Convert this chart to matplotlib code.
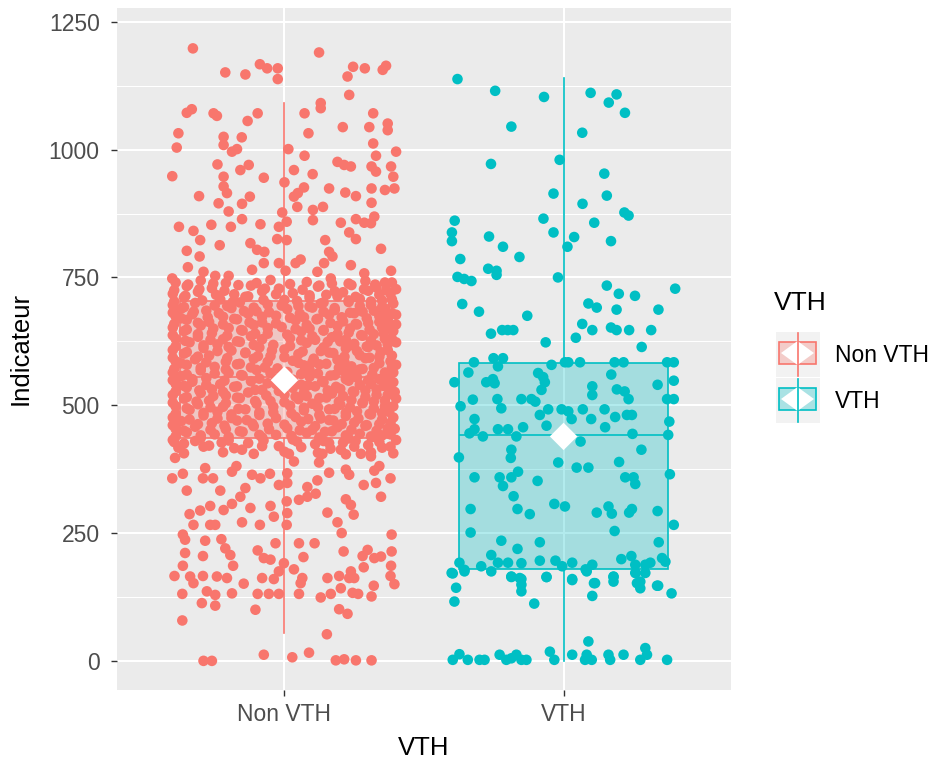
import matplotlib
matplotlib.use("Agg")
import matplotlib.pyplot as plt
from matplotlib.patches import Rectangle, Polygon
from matplotlib.lines import Line2D
from matplotlib.colors import to_rgba

plt.rcParams['font.family'] = ['Liberation Sans', 'DejaVu Sans']

categories = ["Non VTH", "VTH"]
colors = ["#F8766D", "#00BFC4"]

box_q1 = [436, 180]
box_median = [555, 441]
box_q3 = [703, 583]
whisker_low = [55, 0]
whisker_high = [1092, 1140]
group_mean = [549, 439]

y_ticks = [0, 250, 500, 750, 1000, 1250]
y_minor = [125, 375, 625, 875, 1125]

# ---- Non VTH jittered points (offset from category centre, value) ----
nonvth_jitter = [
    -0.328, 0.124, -0.212, -0.14, -0.088, -0.062, -0.024, -0.024, 0.246, 0.288,
    0.226, 0.352, 0.364, 0.232, 0.13, 0.13, -0.35, -0.332, -0.254, -0.242,
    -0.132, -0.096, 0.072, 0.318, 0.37, 0.37, -0.38, -0.218, -0.153, 0.086,
    0.209, 0.304, -0.386, -0.218, -0.188, -0.17, 0.014, 0.318, 0.40, 0.328,
    0.072, -0.24, -0.158, -0.128, -0.402, -0.218, -0.074, 0.034, 0.101, 0.19,
    0.214, 0.238, 0.312, 0.328, 0.382, 0.39, 0.0, -0.218, -0.206, -0.306,
    -0.124, 0.07, 0.048, 0.034, 0.16, 0.218, 0.256, 0.312, 0.36, 0.394,
    -0.236, -0.2, -0.152, 0.046, 0.102, 0.138, 0.312, -0.008, -0.378, -0.326,
    -0.262, -0.192, -0.152, -0.086, -0.02, 0.008, 0.102, 0.202, 0.256, 0.286,
    0.322, 0.31, -0.302, -0.232, -0.026, 0.008, 0.146, 0.232, 0.256, 0.346,
    -0.35, -0.304, -0.122, -0.098, -0.072, 0.058, 0.16, 0.172, -0.346, -0.29,
    -0.248, -0.2, -0.116, -0.074, -0.02, 0.004, 0.04, 0.142, 0.238, 0.286,
    0.382, -0.402, 0.118, 0.166,
    -0.392, -0.402, -0.364, -0.35, -0.284, -0.292, -0.256, -0.188, -0.172, -0.23,
    -0.116, -0.086, -0.052, -0.02, 0.01, 0.016, 0.034, 0.01, -0.152, 0.124,
    0.136, 0.16, 0.118, 0.082, 0.112, 0.202, 0.22, 0.232, 0.274, 0.31,
    0.322, 0.34, 0.38, 0.284, 0.328, 0.346, -0.158, -0.14, -0.122, -0.05,
    -0.038, 0.008, 0.01, 0.052, 0.082, -0.34, -0.326, -0.302, -0.266, -0.266,
    -0.248, -0.218, -0.188, -0.152, -0.088, 0.008, 0.154, 0.19, 0.22, 0.238,
    0.248, 0.205, -0.364, -0.356, -0.284, -0.226, -0.212, -0.194, -0.184, -0.292,
    -0.356, -0.032, 0.052, 0.108, 0.212, 0.384, 0.384, 0.298, 0.28, 0.322,
    0.346, 0.382, 0.284, -0.096, -0.074, -0.05, -0.002, -0.02, 0.034, 0.068,
    0.064, 0.058, -0.364, -0.338, -0.326, -0.292, -0.242, -0.248, -0.206, -0.188,
    -0.278, -0.296, -0.248, -0.394, -0.366, -0.146, -0.08, -0.038, -0.096, -0.056,
    -0.02, 0.052, -0.104, -0.366, 0.154, 0.196, 0.238, 0.232, 0.25, 0.13,
    0.166, 0.202, 0.244, 0.264, 0.312, 0.32, 0.38, 0.394, 0.196, 0.226,
    0.152, -0.074, 0.028, 0.088, -0.29, -0.26, 0.184, 0.214, 0.256, 0.312,
    -0.39, -0.30, -0.21, -0.05, 0.08, 0.17, 0.29, 0.36,
    -0.35, -0.26, -0.12, -0.02, 0.12, 0.24, 0.33, 0.40,
    -0.40, -0.31, -0.18, -0.08, 0.03, 0.15, 0.21, 0.30, 0.38,
    -0.36, -0.23, -0.14, 0.00, 0.09, 0.19, 0.27, 0.35,
    -0.40, -0.32, -0.25, -0.16, -0.06, 0.05, 0.13, 0.23, 0.31, 0.39,
    -0.37, -0.28, -0.19, -0.10, 0.01, 0.10, 0.18, 0.28, 0.36,
    -0.39, -0.33, -0.22, -0.13, -0.03, 0.07, 0.16, 0.25, 0.34, 0.40,
    -0.35, -0.27, -0.17, -0.08, 0.04, 0.12, 0.21, 0.30, 0.37,
    -0.40, -0.30, -0.20, -0.11, -0.01, 0.09, 0.19, 0.26, 0.35,
    -0.36, -0.26, -0.15, -0.06, 0.06, 0.14, 0.23, 0.32, 0.39,
    -0.39, -0.31, -0.22, -0.12, 0.02, 0.11, 0.17, 0.28, 0.36,
    -0.34, -0.24, -0.16, -0.04, 0.08, 0.20, 0.25, 0.33, 0.40,
    -0.40, -0.29, -0.19, -0.09, 0.00, 0.13, 0.22, 0.30, 0.37,
    -0.36, -0.27, -0.14, -0.05, 0.05, 0.16, 0.27, 0.34,
    -0.39, -0.32, -0.21, -0.11, 0.03, 0.10, 0.19, 0.29, 0.38,
    -0.35, -0.25, -0.17, -0.07, 0.07, 0.15, 0.24, 0.32, 0.40,
    -0.40, -0.30, -0.20, -0.10, 0.01, 0.12, 0.21, 0.27, 0.36,
    -0.37, -0.28, -0.15, -0.03, 0.09, 0.18, 0.26, 0.34,
    -0.39, -0.33, -0.23, -0.12, -0.06, 0.06, 0.14, 0.23, 0.31, 0.39,
    -0.35, -0.26, -0.18, -0.08, 0.03, 0.11, 0.20, 0.29, 0.37,
    -0.40, -0.30, -0.21, -0.13, 0.00, 0.08, 0.17, 0.25, 0.33,
    -0.36, -0.27, -0.16, -0.05, 0.05, 0.15, 0.24, 0.32, 0.40,
    -0.39, -0.31, -0.22, -0.10, 0.02, 0.12, 0.20, 0.28, 0.36,
    -0.34, -0.24, -0.14, -0.04, 0.07, 0.18, 0.26, 0.35,
    -0.40, -0.29, -0.19, -0.09, 0.04, 0.13, 0.22, 0.31, 0.39,
    -0.37, -0.26, -0.17, -0.06, 0.06, 0.16, 0.25, 0.34,
    -0.39, -0.32, -0.21, -0.11, 0.01, 0.10, 0.19, 0.29, 0.37,
    -0.35, -0.25, -0.15, -0.03, 0.08, 0.17, 0.27, 0.35,
    -0.40, -0.30, -0.20, -0.08, 0.03, 0.14, 0.23, 0.32, 0.40,
    -0.36, -0.27, -0.13, -0.02, 0.11, 0.21, 0.30, 0.38,
]
nonvth_values = [
    1198, 1190, 1151, 1147, 1167, 1159, 1159, 1138, 1162, 1159,
    1143, 1156, 1164, 1107, 1091, 1081, 1072, 1079, 1071, 1066,
    1056, 1071, 1071, 1071, 1051, 1038, 1032, 1025, 1024, 1032,
    1044, 1044, 1004, 1009, 996, 1001, 1001, 1012, 996, 988,
    988, 971, 960, 970, 948, 947, 945, 960, 952, 976,
    970, 967, 967, 957, 967, 947, 936, 928, 915, 909,
    908, 926, 915, 908, 924, 916, 909, 924, 921, 924,
    895, 879, 894, 888, 882, 888, 896, 877, 849, 841,
    853, 849, 864, 854, 849, 859, 862, 857, 864, 857,
    869, 856, 823, 813, 825, 823, 823, 838, 825, 806,
    802, 791, 817, 804, 800, 785, 800, 791, 770, 761,
    753, 753, 765, 778, 778, 763, 778, 778, 774, 758,
    763, 748, 761, 748,
    397, 357, 366, 333, 377, 357, 357, 370, 381, 333,
    364, 357, 366, 344, 348, 405, 390, 367, 413, 388,
    405, 368, 353, 340, 327, 413, 374, 364, 405, 400,
    372, 381, 357, 344, 348, 321, 321, 338, 299, 303,
    282, 312, 289, 315, 321, 287, 266, 294, 303, 266,
    266, 295, 307, 271, 266, 266, 290, 271, 316, 305,
    286, 250, 247, 237, 235, 238, 220, 207, 186, 205,
    211, 230, 230, 230, 214, 247, 214, 217, 205, 201,
    204, 186, 183, 216, 201, 198, 191, 175, 179, 203,
    162, 152, 186, 165, 152, 166, 165, 129, 162, 132,
    136, 113, 108, 166, 131, 151, 162, 160, 131, 131,
    131, 131, 100, 79, 162, 166, 175, 162, 162, 124,
    131, 142, 133, 131, 126, 147, 166, 150, 101, 92,
    52, 12, 7, 16, 0, 0, 1, 3, 1, 1,
    740, 744, 739, 745, 741, 738, 743, 740,
    733, 729, 734, 728, 732, 735, 730, 727,
    718, 722, 717, 723, 719, 716, 721, 724, 718,
    711, 707, 712, 706, 710, 713, 708, 705,
    696, 700, 695, 701, 697, 694, 699, 702, 696, 699,
    689, 685, 690, 684, 688, 691, 686, 683, 689,
    674, 678, 673, 679, 675, 672, 677, 680, 674, 677,
    667, 663, 668, 662, 666, 669, 664, 661, 667,
    652, 656, 651, 657, 653, 650, 655, 658, 652,
    645, 641, 646, 640, 644, 647, 642, 639, 645,
    630, 634, 629, 635, 631, 628, 633, 636, 630,
    623, 619, 624, 618, 622, 625, 620, 617, 623,
    608, 612, 607, 613, 609, 606, 611, 614, 608,
    601, 597, 602, 596, 600, 603, 598, 595,
    586, 590, 585, 591, 587, 584, 589, 592, 586,
    579, 575, 580, 574, 578, 581, 576, 573, 579,
    564, 568, 563, 569, 565, 562, 567, 570, 564,
    557, 553, 558, 552, 556, 559, 554, 551,
    542, 546, 541, 547, 543, 540, 545, 548, 542, 545,
    535, 531, 536, 530, 534, 537, 532, 529, 535,
    520, 524, 519, 525, 521, 518, 523, 526, 520,
    513, 509, 514, 508, 512, 515, 510, 507, 513,
    498, 502, 497, 503, 499, 496, 501, 504, 498,
    491, 487, 492, 486, 490, 493, 488, 485,
    476, 480, 475, 481, 477, 474, 479, 482, 476,
    469, 465, 470, 464, 468, 471, 466, 463,
    454, 458, 453, 459, 455, 452, 457, 460, 454,
    447, 443, 448, 442, 446, 449, 444, 441,
    432, 436, 431, 437, 433, 430, 435, 438, 432,
    425, 421, 426, 420, 424, 427, 422, 419,
]

# second layer of the dense Non VTH core (between the rows above)
nonvth_core_jitter = [
    -0.345, -0.255, -0.165, -0.10, 0.02, 0.125, 0.23, 0.325, 0.385,
    -0.395, -0.305, -0.215, -0.07, 0.065, 0.18, 0.285, 0.365,
    -0.355, -0.245, -0.13, -0.03, 0.09, 0.255, 0.34,
    -0.395, -0.295, -0.185, -0.075, 0.045, 0.14, 0.23, 0.31, 0.385,
    -0.36, -0.205, -0.11, -0.01, 0.09, 0.18, 0.27, 0.35,
    -0.40, -0.325, -0.235, -0.145, -0.055, 0.055, 0.14, 0.235, 0.32, 0.385,
    -0.37, -0.275, -0.18, -0.08, 0.02, 0.115, 0.205, 0.295, 0.37,
    -0.395, -0.31, -0.22, -0.125, -0.03, 0.08, 0.165, 0.255, 0.34, 0.40,
    -0.35, -0.255, -0.155, -0.06, 0.04, 0.14, 0.235, 0.305, 0.375,
    -0.40, -0.31, -0.205, -0.105, 0.01, 0.10, 0.19, 0.275, 0.355,
    -0.355, -0.265, -0.17, -0.08, 0.06, 0.155, 0.22, 0.31, 0.385,
    -0.39, -0.29, -0.20, -0.11, 0.02, 0.14, 0.235, 0.295, 0.37,
    -0.35, -0.24, -0.14, -0.045, 0.065, 0.175, 0.26, 0.345,
    -0.40, -0.31, -0.205, -0.095, 0.0, 0.105, 0.215, 0.305, 0.385,
    -0.37, -0.28, -0.16, -0.06, 0.05, 0.125, 0.215, 0.34,
    -0.395, -0.30, -0.21, -0.12, -0.025, 0.09, 0.195, 0.28, 0.385,
    -0.35, -0.25, -0.155, -0.05, 0.06, 0.165, 0.24, 0.315, 0.39,
    -0.40, -0.33, -0.215, -0.09, 0.03, 0.135, 0.22, 0.30, 0.37,
    -0.36, -0.28, -0.17, -0.03, 0.085, 0.185, 0.27, 0.355,
    -0.39, -0.305, -0.22, -0.105, -0.02, 0.07, 0.155, 0.245, 0.33, 0.395,
    -0.35, -0.255, -0.17, -0.065, 0.04, 0.125, 0.21, 0.29, 0.37,
    -0.40, -0.315, -0.21, -0.105, 0.0, 0.10, 0.195, 0.28, 0.36,
    -0.35, -0.265, -0.165, -0.04, 0.07, 0.16, 0.235, 0.32, 0.39,
    -0.39, -0.29, -0.19, -0.09, 0.025, 0.125, 0.22, 0.305, 0.375,
    -0.34, -0.24, -0.135, -0.03, 0.085, 0.175, 0.265, 0.35,
    -0.40, -0.31, -0.215, -0.115, 0.0, 0.11, 0.205, 0.295, 0.38,
    -0.36, -0.265, -0.16, -0.055, 0.055, 0.145, 0.24, 0.33, 0.395,
    -0.39, -0.30, -0.20, -0.09, 0.025, 0.125, 0.22, 0.31, 0.38,
    -0.395, -0.32, -0.225, -0.075, 0.045, 0.16, 0.255, 0.34,
    -0.38, -0.29, -0.18, -0.08, 0.06, 0.165, 0.25, 0.35,
    -0.36, -0.22, -0.11, 0.0, 0.12, 0.22, 0.31, 0.39,
]
nonvth_core_values = [
    736, 738, 735, 739, 737, 734, 738, 736, 740,
    725, 727, 724, 728, 726, 723, 727, 725,
    714, 716, 713, 717, 715, 712, 716,
    703, 705, 702, 706, 704, 701, 705, 703, 707,
    692, 694, 691, 695, 693, 690, 694, 692,
    681, 683, 680, 684, 682, 679, 683, 681, 685, 680,
    670, 672, 669, 673, 671, 668, 672, 670, 674,
    659, 661, 658, 662, 660, 657, 661, 659, 663, 658,
    648, 650, 647, 651, 649, 646, 650, 648, 652,
    637, 639, 636, 640, 638, 635, 639, 637, 641,
    626, 628, 625, 629, 627, 624, 628, 626, 630,
    615, 617, 614, 618, 616, 613, 617, 615, 619,
    604, 606, 603, 607, 605, 602, 606, 604,
    593, 595, 592, 596, 594, 591, 595, 593, 597,
    582, 584, 581, 585, 583, 580, 584, 582,
    571, 573, 570, 574, 572, 569, 573, 571, 575,
    560, 562, 559, 563, 561, 558, 562, 560, 564,
    549, 551, 548, 552, 550, 547, 551, 549, 553,
    538, 540, 537, 541, 539, 536, 540, 538,
    527, 529, 526, 530, 528, 525, 529, 527, 531, 526,
    516, 518, 515, 519, 517, 514, 518, 516, 520,
    505, 507, 504, 508, 506, 503, 507, 505, 509,
    494, 496, 493, 497, 495, 492, 496, 494, 498,
    483, 485, 482, 486, 484, 481, 485, 483, 487,
    472, 474, 471, 475, 473, 470, 474, 472,
    461, 463, 460, 464, 462, 459, 463, 461, 465,
    450, 452, 449, 453, 451, 448, 452, 450, 454,
    439, 441, 438, 442, 440, 437, 441, 439, 443,
    428, 430, 427, 431, 429, 426, 430, 428,
    417, 419, 416, 420, 418, 415, 419, 417,
    406, 408, 405, 409, 407, 404, 408, 406,
]

# ---- VTH jittered points ----
vth_jitter = [
    -0.38, -0.245, -0.07, 0.097, 0.19, 0.162, 0.22, -0.187, 0.067, -0.26,
    -0.014, 0.146, -0.036, 0.155, 0.068, 0.218, 0.233, -0.39, -0.072, 0.11,
    -0.40, -0.40, -0.267, -0.036, 0.038, 0.17, 0.014, -0.217, -0.37, -0.158,
    -0.27, -0.24, -0.24, -0.38, -0.356, -0.33, -0.02, 0.155, 0.198, 0.256,
    0.40, -0.363, -0.303, -0.13, 0.089, 0.119, 0.19, 0.34, -0.26, -0.22,
    -0.20, -0.18, 0.067, 0.103, 0.17, 0.19, 0.235, 0.314, -0.064, 0.044, 0.28,
    -0.321, -0.251, -0.217, -0.235, -0.043, 0.005, 0.017, 0.059, 0.183, 0.215,
    0.371, 0.395, -0.341, -0.391, -0.277, -0.253, -0.247, -0.091, -0.073, -0.067,
    -0.079, 0.103, 0.103, 0.171, 0.191, 0.219, 0.233, 0.337, 0.395, -0.325,
    -0.369, -0.237, -0.223, -0.151, -0.115, -0.101, 0.395, 0.371, -0.319, -0.085,
    -0.055, -0.007, 0.017, 0.029, 0.069, 0.099, 0.147, 0.185, 0.227, 0.245,
    0.379, -0.061, -0.337, -0.319, -0.289, -0.235, -0.199, -0.169, -0.145, 0.149,
    0.247, 0.375, 0.061, -0.375, -0.187, -0.189, 0.279, -0.019, 0.047, 0.089,
    0.199, -0.319, -0.229, -0.217, -0.187, -0.163, -0.093, 0.221, 0.251, 0.257,
    0.381, -0.179, -0.333, -0.165, -0.121, -0.033, 0.005, 0.119, 0.161, 0.173,
    0.235, 0.245, 0.337, 0.395, -0.333, 0.183, -0.223, -0.165, -0.085, 0.207,
    0.243, 0.341, -0.373, -0.295, -0.259, -0.235, -0.199, -0.151, -0.085, -0.029,
    -0.005, 0.031, 0.079, 0.103, 0.257, 0.293, 0.311, 0.353, 0.365, -0.401,
    -0.355, -0.187, -0.151, -0.061, 0.031, 0.109, 0.179, 0.259, 0.275, 0.335,
    -0.397, -0.355, -0.259, -0.187, -0.157, -0.151, -0.151, -0.061, 0.031, 0.083,
    0.113, 0.103, 0.179, 0.179, 0.257, 0.263, 0.275, 0.293, 0.339, 0.387,
    -0.385, -0.391, -0.105, -0.397, -0.373, -0.343, -0.301, -0.283, -0.229, -0.205,
    -0.187, -0.169, -0.151, -0.133, -0.049, -0.033, 0.031, 0.089, 0.083, 0.101,
    0.077, 0.161, 0.167, 0.215, 0.275, 0.293, 0.299, 0.371,
]
vth_values = [
    1138, 1115, 1103, 1111, 1108, 1092, 1072, 1045, 1033, 972,
    980, 953, 914, 910, 894, 877, 871, 861, 865, 857,
    838, 821, 830, 838, 829, 821, 810, 810, 786, 790,
    767, 763, 755, 751, 747, 743, 750, 734, 718, 714,
    728, 698, 683, 675, 699, 691, 687, 687, 640, 647,
    647, 647, 659, 647, 652, 647, 647, 647, 623, 632, 614,
    584, 592, 592, 576, 579, 584, 584, 584, 584, 584,
    584, 584, 564, 545, 545, 551, 543, 563, 555, 545,
    530, 537, 520, 560, 531, 527, 512, 540, 548, 511,
    498, 512, 494, 512, 512, 507, 512, 512, 473, 481,
    492, 492, 488, 473, 492, 473, 492, 477, 481, 481,
    468, 460, 445, 453, 439, 453, 453, 439, 457, 457,
    444, 442, 429, 398, 413, 397, 413, 388, 378, 378,
    389, 359, 359, 342, 359, 370, 352, 359, 359, 346,
    365, 322, 297, 297, 287, 307, 302, 290, 302, 288,
    290, 297, 293, 266, 251, 254, 235, 219, 232, 199,
    205, 232, 192, 185, 207, 192, 192, 191, 196, 196,
    185, 192, 179, 188, 188, 188, 192, 201, 194, 172,
    178, 164, 160, 164, 160, 152, 164, 172, 155, 147,
    171, 175, 175, 165, 162, 149, 136, 164, 158, 175,
    152, 127, 165, 155, 172, 152, 142, 172, 147, 132,
    143, 116, 112, 2, 13, 2, 2, 2, 12, 2,
    5, 12, 2, 2, 18, 2, 12, 38, 12, 2,
    2, 12, 2, 12, 2, 25, 12, 2,
]

W, H = 935, 762
fig = plt.figure(figsize=(W / 100, H / 100), dpi=100)
ax = fig.add_axes([117 / W, 1 - 690 / H, 614 / W, 682 / H])
ax.set_facecolor('#EBEBEB')
ax.set_xlim(0.4, 2.6)
ax.set_ylim(-57, 1277)

ax.set_yticks(y_ticks)
ax.set_yticks(y_minor, minor=True)
ax.set_xticks([1, 2])
ax.set_xticklabels(categories)
ax.grid(which='major', color='white', linewidth=1.5, zorder=0)
ax.grid(which='minor', axis='y', color='white', linewidth=0.75, zorder=0)
ax.set_axisbelow(True)
for s in ax.spines.values():
    s.set_visible(False)
ax.tick_params(which='major', length=4.5, width=1, color='#333333',
               labelcolor='#4D4D4D', labelsize=16.5)
ax.tick_params(axis='y', which='major', pad=8)
ax.tick_params(axis='x', which='major', pad=5)
ax.tick_params(which='minor', length=0)

groups = [(nonvth_jitter + nonvth_core_jitter, nonvth_values + nonvth_core_values),
          (vth_jitter, vth_values)]
for i, c in enumerate(colors):
    stat = dict(med=box_median[i], q1=box_q1[i], q3=box_q3[i],
                whislo=whisker_low[i], whishi=whisker_high[i], label=categories[i])
    ax.bxp([stat], positions=[i + 1], widths=0.75, patch_artist=True,
           showcaps=False, showfliers=False, manage_ticks=False,
           boxprops=dict(facecolor=to_rgba(c, 0.3), edgecolor=c, linewidth=1.2),
           whiskerprops=dict(color=c, linewidth=1.2),
           medianprops=dict(color=c, linewidth=1.2), zorder=2)
    jit, vals = groups[i]
    ax.scatter([i + 1 + j for j in jit], vals, s=58, color=c,
               edgecolors='none', zorder=3)

ax.scatter([1, 2], group_mean, marker='D', s=196, color='white',
           edgecolors='none', zorder=4)

ax.set_xlabel('VTH', fontsize=18.5, color='black')
ax.set_ylabel('Indicateur', fontsize=18.5, color='black')
ax.xaxis.set_label_coords(0.5, (690 - 736) / 682)
ax.yaxis.set_label_coords((33 - 117) / 614, 0.5)


def fp(x, y):
    return (x / W, 1 - y / H)


fig.text(*fp(774, 303), 'VTH', fontsize=19, va='center', ha='left')
for k, c in enumerate(colors):
    dy = 46 * k
    fig.add_artist(Rectangle(fp(776, 377 + dy), 44 / W, 45 / H,
                             transform=fig.transFigure, facecolor='#F2F2F2',
                             edgecolor='none'))
    fig.add_artist(Line2D([797.5 / W] * 2, [fp(0, 333 + dy)[1], fp(0, 376 + dy)[1]],
                          transform=fig.transFigure, color=c, linewidth=1.2))
    fig.add_artist(Rectangle(fp(779, 364 + dy), 37 / W, 22 / H,
                             transform=fig.transFigure,
                             facecolor=to_rgba(c, 0.3), edgecolor=c, linewidth=1.2))
    fig.add_artist(Polygon([fp(797.5, 341 + dy), fp(814, 353 + dy),
                            fp(797.5, 365 + dy), fp(781, 353 + dy)],
                           closed=True, transform=fig.transFigure,
                           facecolor='white', edgecolor='none'))
    fig.text(*fp(835, 355 + dy), categories[k], fontsize=16.5, va='center',
             ha='left', color='black')

fig.savefig('out.png', dpi=100)
